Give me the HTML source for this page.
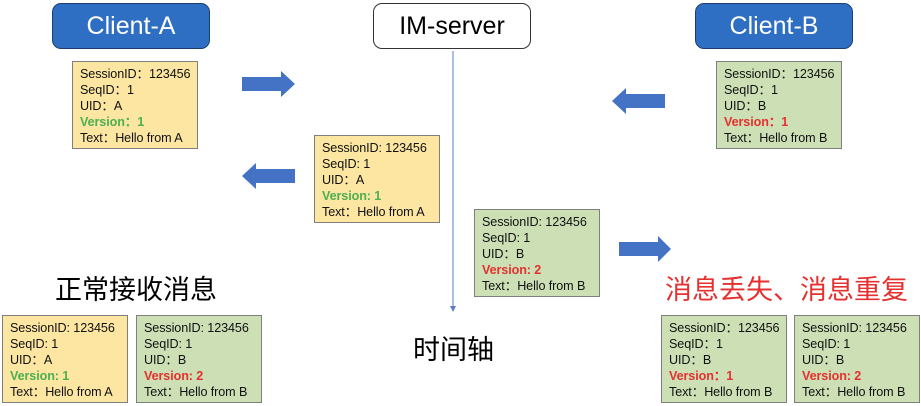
<!DOCTYPE html>
<html><head><meta charset="utf-8"><style>
body{margin:0;width:921px;height:406px;background:#fff;position:relative;overflow:hidden;font-family:"Liberation Sans","Noto Sans CJK SC",sans-serif}
.h{position:absolute;width:158px;height:46px;border-radius:9px;border:1.5px solid #333;box-sizing:border-box;font-size:25px;text-align:center;line-height:44px}
.blue{background:#2f6fc3;color:#fff;border-color:#1d3f70}
.b{position:absolute;width:126px;height:88px;box-sizing:border-box;border:1.5px solid #7f7f7f;padding:4px 0 0 7px;font-size:12.6px;line-height:16px;color:#111;white-space:nowrap;letter-spacing:-0.1px}
.y{background:#fce6a2}.g{background:#cde0b5}
.vg{color:#4caf50;font-weight:bold}.vr{color:#e53030;font-weight:bold}
.t{position:absolute;font-size:27px;line-height:30px;white-space:nowrap}
svg{position:absolute;left:0;top:0}
</style></head><body>
<div class="h blue" style="left:52px;top:3px">Client-A</div>
<div class="h" style="left:373px;top:3px;background:#fff">IM-server</div>
<div class="h blue" style="left:695px;top:3px">Client-B</div>
<svg width="921" height="406">
<line x1="453" y1="51" x2="453" y2="308" stroke="#5b7fc2" stroke-width="1"/>
<polygon points="450,306 456,306 453,312" fill="#5b7fc2"/>
<g fill="#4472c4">
<polygon points="242,77 281,77 281,71 295,84 281,97 281,91 242,91"/>
<polygon points="295,169 256,169 256,163 242,176 256,189 256,183 295,183"/>
<polygon points="665,94 626,94 626,88 612,101 626,114 626,108 665,108"/>
<polygon points="619,242 658,242 658,236 671,249 658,262 658,256 619,256"/>
</g>
</svg>
<div class="b y" style="left:72px;top:61px">SessionID：123456<br>SeqID：1<br>UID：A<br><span class="vg">Version：1</span><br>Text：Hello from A</div>
<div class="b y" style="left:314px;top:135px">SessionID: 123456<br>SeqID: 1<br>UID：A<br><span class="vg">Version: 1</span><br>Text：Hello from A</div>
<div class="b g" style="left:716px;top:61px">SessionID：123456<br>SeqID：1<br>UID：B<br><span class="vr">Version：1</span><br>Text：Hello from B</div>
<div class="b g" style="left:474px;top:209px">SessionID: 123456<br>SeqID: 1<br>UID：B<br><span class="vr">Version: 2</span><br>Text：Hello from B</div>
<div class="t" style="left:55px;top:275px">正常接收消息</div>
<div class="t" style="left:665px;top:275px;color:#e53030">消息丢失、消息重复</div>
<div class="t" style="left:413px;top:335px">时间轴</div>
<div class="b y" style="left:2px;top:315px">SessionID: 123456<br>SeqID: 1<br>UID：A<br><span class="vg">Version: 1</span><br>Text：Hello from A</div>
<div class="b g" style="left:136px;top:315px">SessionID: 123456<br>SeqID: 1<br>UID：B<br><span class="vr">Version: 2</span><br>Text：Hello from B</div>
<div class="b g" style="left:661px;top:315px">SessionID：123456<br>SeqID：1<br>UID：B<br><span class="vr">Version：1</span><br>Text：Hello from B</div>
<div class="b g" style="left:794px;top:315px">SessionID: 123456<br>SeqID: 1<br>UID：B<br><span class="vr">Version: 2</span><br>Text：Hello from B</div>
</body></html>
